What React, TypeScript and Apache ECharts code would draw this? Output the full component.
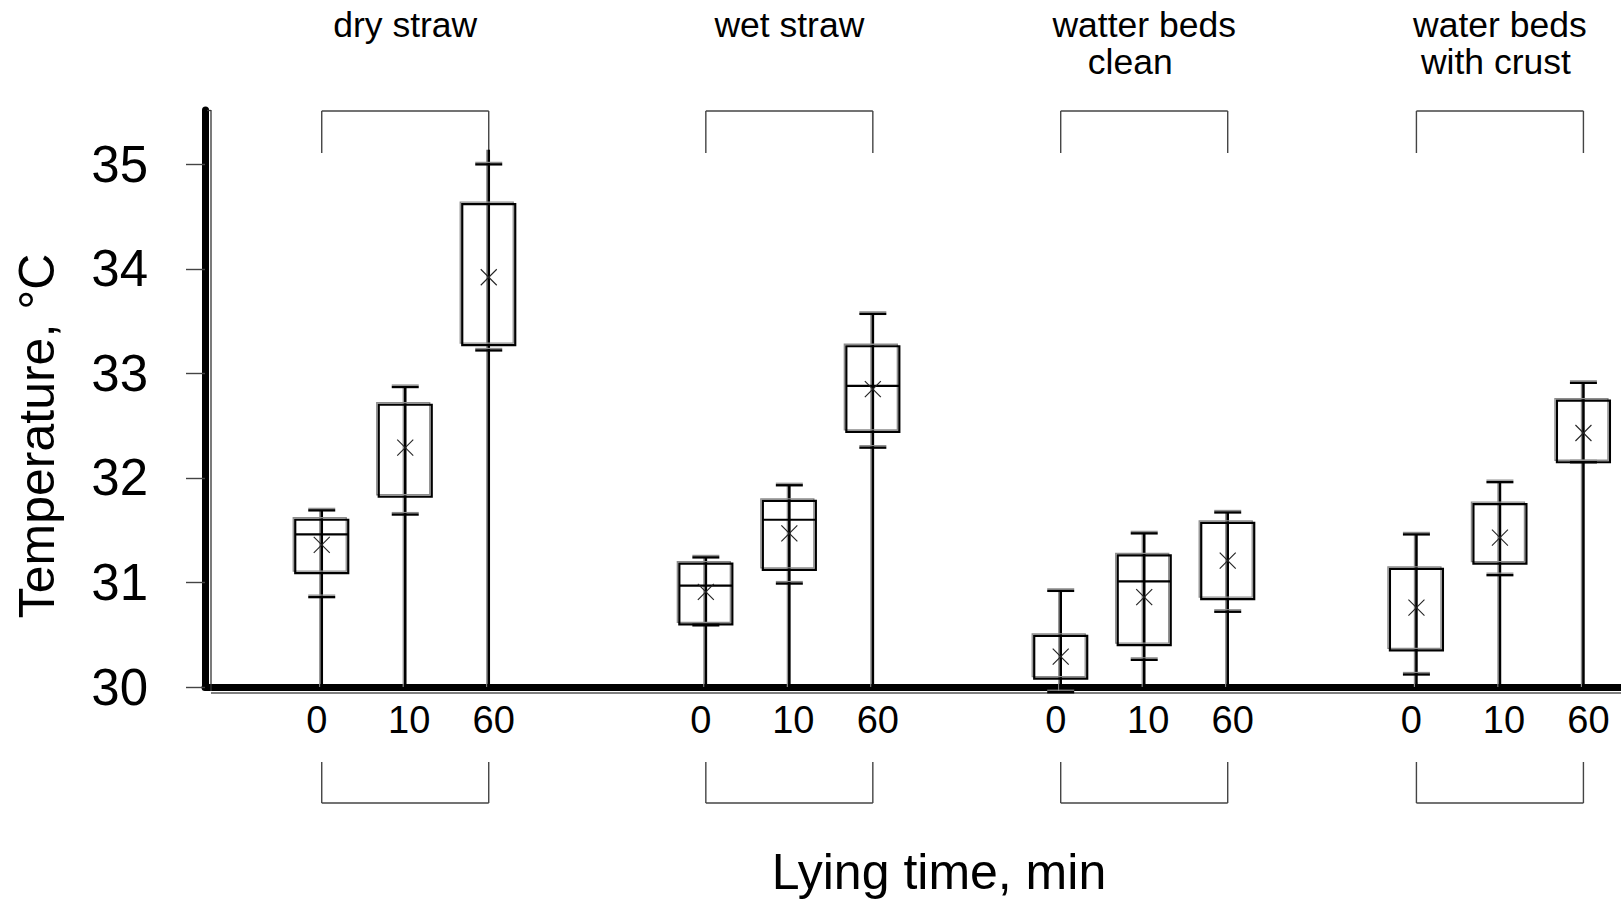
import { useEffect, useRef } from 'react';
import * as echarts from 'echarts';

// ---- data -----------------------------------------------------------------
const groupNames = ['dry straw', 'wet straw', 'watter beds\nclean', 'water beds\nwith crust'];
const lyingTimes = ['0', '10', '60'];
const yTicks = [30, 31, 32, 33, 34, 35];

// Skin temperature, °C — rows: bedding groups, columns: lying time 0 / 10 / 60 min
const stemTop = [
  [31.69, 32.87, 35.14],
  [31.24, 31.93, 33.57],
  [30.92, 31.47, 31.67],
  [31.46, 31.96, 32.91],
];
const upperWhisker = [
  [31.69, 32.87, 35.0],
  [31.24, 31.93, 33.57],
  [30.92, 31.47, 31.67],
  [31.46, 31.96, 32.91],
];
const upperQuartile = [
  [31.6, 32.7, 34.62],
  [31.18, 31.78, 33.26],
  [30.49, 31.26, 31.57],
  [31.13, 31.75, 32.74],
];
const medianValue: (number | null)[][] = [
  [31.46, null, null],
  [30.97, 31.6, 32.88],
  [null, 31.01, null],
  [null, null, null],
];
const lowerQuartile = [
  [31.09, 31.82, 33.27],
  [30.6, 31.12, 32.44],
  [30.08, 30.4, 30.84],
  [30.35, 31.18, 32.15],
];
const lowerWhisker = [
  [30.86, 31.65, 33.22],
  [30.59, 30.99, 32.29],
  [29.95, 30.26, 30.72],
  [30.12, 31.07, 32.15],
];
const meanValue = [
  [31.36, 32.29, 33.92],
  [30.91, 31.47, 32.85],
  [30.29, 30.86, 31.21],
  [30.76, 31.43, 32.43],
];

// ---- layout ---------------------------------------------------------------
const GROUP_START = [0, 4.6, 8.85, 13.11]; // x slot of each group's first box
const X_MIN = -1.398;
const X_MAX = 15.56;
const Y_MIN = 30;
const Y_MAX = 35.52;
const BOX_W = 53;
const CAP_W = 27;
const CROSS = 8;
const FONT = '"Liberation Sans", Arial, Helvetica, sans-serif';
const LINE_SHIFT = [[0], [0], [0, -14], [0, -4]];
const TIME_LABEL_SHIFT = [-5, 4, 5];

type Item = { g: number; t: number; x: number };
const boxItems: Item[] = [];
groupNames.forEach((_, g) =>
  lyingTimes.forEach((_, t) => boxItems.push({ g, t, x: GROUP_START[g] + t }))
);

function hLine(x1: number, x2: number, y: number, stroke: string, w: number) {
  return { type: 'line', shape: { x1, y1: y, x2, y2: y }, style: { stroke, lineWidth: w } };
}
function vLine(x: number, y1: number, y2: number, stroke: string, w: number) {
  return { type: 'line', shape: { x1: x, y1, x2: x, y2 }, style: { stroke, lineWidth: w } };
}

function renderBox(params: any, api: any) {
  const { g, t } = boxItems[params.dataIndex];
  const xv = api.value(0);
  const cx = api.coord([xv, Y_MIN])[0];
  const py = (v: number) => api.coord([xv, v])[1];
  const base = py(Y_MIN);
  const yTop = py(stemTop[g][t]);
  const yHi = py(upperWhisker[g][t]);
  const yLo = py(lowerWhisker[g][t]);
  const yQ3 = py(upperQuartile[g][t]);
  const yQ1 = py(lowerQuartile[g][t]);
  const yMean = py(meanValue[g][t]);
  const med = medianValue[g][t];
  const stemBottom = Math.max(base, yLo);
  const children: any[] = [];

  // stem from the axis up to the top
  children.push(vLine(cx - 2, stemBottom, yTop, '#8c8c8c', 1.2));
  children.push(vLine(cx, stemBottom, yTop, '#000', 2.6));
  // whisker caps
  children.push(hLine(cx - CAP_W / 2, cx + CAP_W / 2, yHi - 2, '#8c8c8c', 1.2));
  children.push(hLine(cx - CAP_W / 2, cx + CAP_W / 2, yHi, '#000', 2.4));
  children.push(hLine(cx - CAP_W / 2, cx + CAP_W / 2, yLo - 2, '#8c8c8c', 1.2));
  children.push(hLine(cx - CAP_W / 2, cx + CAP_W / 2, yLo, '#000', 2.4));
  // box (with its faint offset outline)
  children.push({
    type: 'rect',
    shape: { x: cx - BOX_W / 2 - 2, y: yQ3 - 2, width: BOX_W, height: yQ1 - yQ3 },
    style: { fill: 'none', stroke: '#8c8c8c', lineWidth: 1.3 },
  });
  children.push({
    type: 'rect',
    shape: { x: cx - BOX_W / 2, y: yQ3, width: BOX_W, height: yQ1 - yQ3 },
    style: { fill: 'none', stroke: '#000', lineWidth: 2.2 },
  });
  if (med !== null) {
    const yMed = py(med);
    children.push(hLine(cx - BOX_W / 2, cx + BOX_W / 2, yMed, '#000', 2.2));
  }
  // mean marker
  children.push({
    type: 'line',
    shape: { x1: cx - CROSS, y1: yMean - CROSS, x2: cx + CROSS, y2: yMean + CROSS },
    style: { stroke: '#222', lineWidth: 1.1 },
  });
  children.push({
    type: 'line',
    shape: { x1: cx - CROSS, y1: yMean + CROSS, x2: cx + CROSS, y2: yMean - CROSS },
    style: { stroke: '#222', lineWidth: 1.1 },
  });
  return { type: 'group', children };
}

function renderGroup(params: any, api: any) {
  const g = params.dataIndex;
  const start = api.value(0);
  const cs = params.coordSys;
  const xs = lyingTimes.map((_, t) => api.coord([start + t, Y_MIN])[0]);
  const x0 = xs[0];
  const x2 = xs[xs.length - 1];
  const bottom = cs.y + cs.height;
  const children: any[] = [];

  // upper bracket
  const topY = cs.y + 1;
  children.push(hLine(x0, x2, topY, '#444', 1.4));
  children.push(vLine(x0, topY, topY + 42, '#444', 1.4));
  children.push(vLine(x2, topY, topY + 42, '#444', 1.4));
  // lower bracket
  const lowY = bottom + 116;
  children.push(hLine(x0, x2, lowY, '#444', 1.4));
  children.push(vLine(x0, lowY - 41, lowY, '#444', 1.4));
  children.push(vLine(x2, lowY - 41, lowY, '#444', 1.4));

  // lying-time labels
  lyingTimes.forEach((lbl, t) => {
    children.push({
      type: 'text',
      x: xs[t] + TIME_LABEL_SHIFT[t],
      y: bottom + 33,
      style: {
        text: lbl,
        fontSize: 38,
        fontFamily: FONT,
        fill: '#000',
        align: 'center',
        verticalAlign: 'middle',
      },
    });
  });

  // group title lines
  const lines = groupNames[g].split('\n');
  lines.forEach((ln, i) => {
    children.push({
      type: 'text',
      x: xs[1] + (LINE_SHIFT[g][i] || 0),
      y: 25 + i * 36.5,
      style: {
        text: ln,
        fontSize: 35.5,
        fontFamily: FONT,
        fill: '#000',
        align: 'center',
        verticalAlign: 'middle',
      },
    });
  });
  return { type: 'group', children };
}

function renderFrame(params: any) {
  const cs = params.coordSys;
  const left = cs.x;
  const bottom = cs.y + cs.height;
  return {
    type: 'group',
    children: [
      vLine(left + 6, cs.y, bottom + 4, '#333', 1.3),
      hLine(left + 6, cs.x + cs.width, bottom + 6, '#555', 1.3),
      hLine(left + 2, left + 6, cs.y + 0.5, '#333', 1.3),
    ],
  };
}

export default function App() {
  const ref = useRef<HTMLDivElement>(null);

  useEffect(() => {
    if (!ref.current) return;
    const chart = echarts.init(ref.current, null, { renderer: 'svg' });
    chart.setOption({
      animation: false,
      backgroundColor: '#fff',
      grid: { left: 205, right: 0, top: 110, bottom: 214, containLabel: false },
      xAxis: {
        type: 'value',
        min: X_MIN,
        max: X_MAX,
        axisLine: { show: true, onZero: false, lineStyle: { color: '#000', width: 7 } },
        axisTick: { show: false },
        axisLabel: { show: false },
        splitLine: { show: false },
      },
      yAxis: {
        type: 'value',
        min: Y_MIN,
        max: Y_MAX,
        interval: 1,
        axisLine: { show: true, onZero: false, lineStyle: { color: '#000', width: 7 } },
        axisTick: {
          show: true,
          length: 19,
          customValues: yTicks,
          lineStyle: { color: '#444', width: 1.4 },
        },
        axisLabel: {
          customValues: yTicks,
          fontSize: 51,
          fontFamily: FONT,
          color: '#000',
          margin: 57,
        },
        splitLine: { show: false },
      },
      graphic: [
        {
          type: 'text',
          x: 37,
          y: 436,
          rotation: Math.PI / 2,
          style: {
            text: 'Temperature, °C',
            fontSize: 50,
            fontFamily: FONT,
            fill: '#000',
            align: 'center',
            verticalAlign: 'middle',
          },
        },
        {
          type: 'text',
          x: 939,
          y: 872,
          style: {
            text: 'Lying time, min',
            fontSize: 50,
            fontFamily: FONT,
            fill: '#000',
            align: 'center',
            verticalAlign: 'middle',
          },
        },
      ],
      series: [
        {
          type: 'custom',
          name: 'frame',
          silent: true,
          renderItem: renderFrame,
          data: [[0, Y_MIN]],
          z: 1,
        },
        {
          type: 'custom',
          name: 'groups',
          silent: true,
          renderItem: renderGroup,
          data: GROUP_START.map((s) => [s, Y_MIN]),
          z: 2,
        },
        {
          type: 'custom',
          name: 'temperature',
          silent: true,
          renderItem: renderBox,
          data: boxItems.map((b) => [b.x, lowerQuartile[b.g][b.t]]),
          z: 3,
        },
      ],
    });
    return () => chart.dispose();
  }, []);

  return (
    <div
      ref={ref}
      style={{ position: 'fixed', left: 0, top: 0, width: 1621, height: 901, background: '#fff' }}
    />
  );
}
